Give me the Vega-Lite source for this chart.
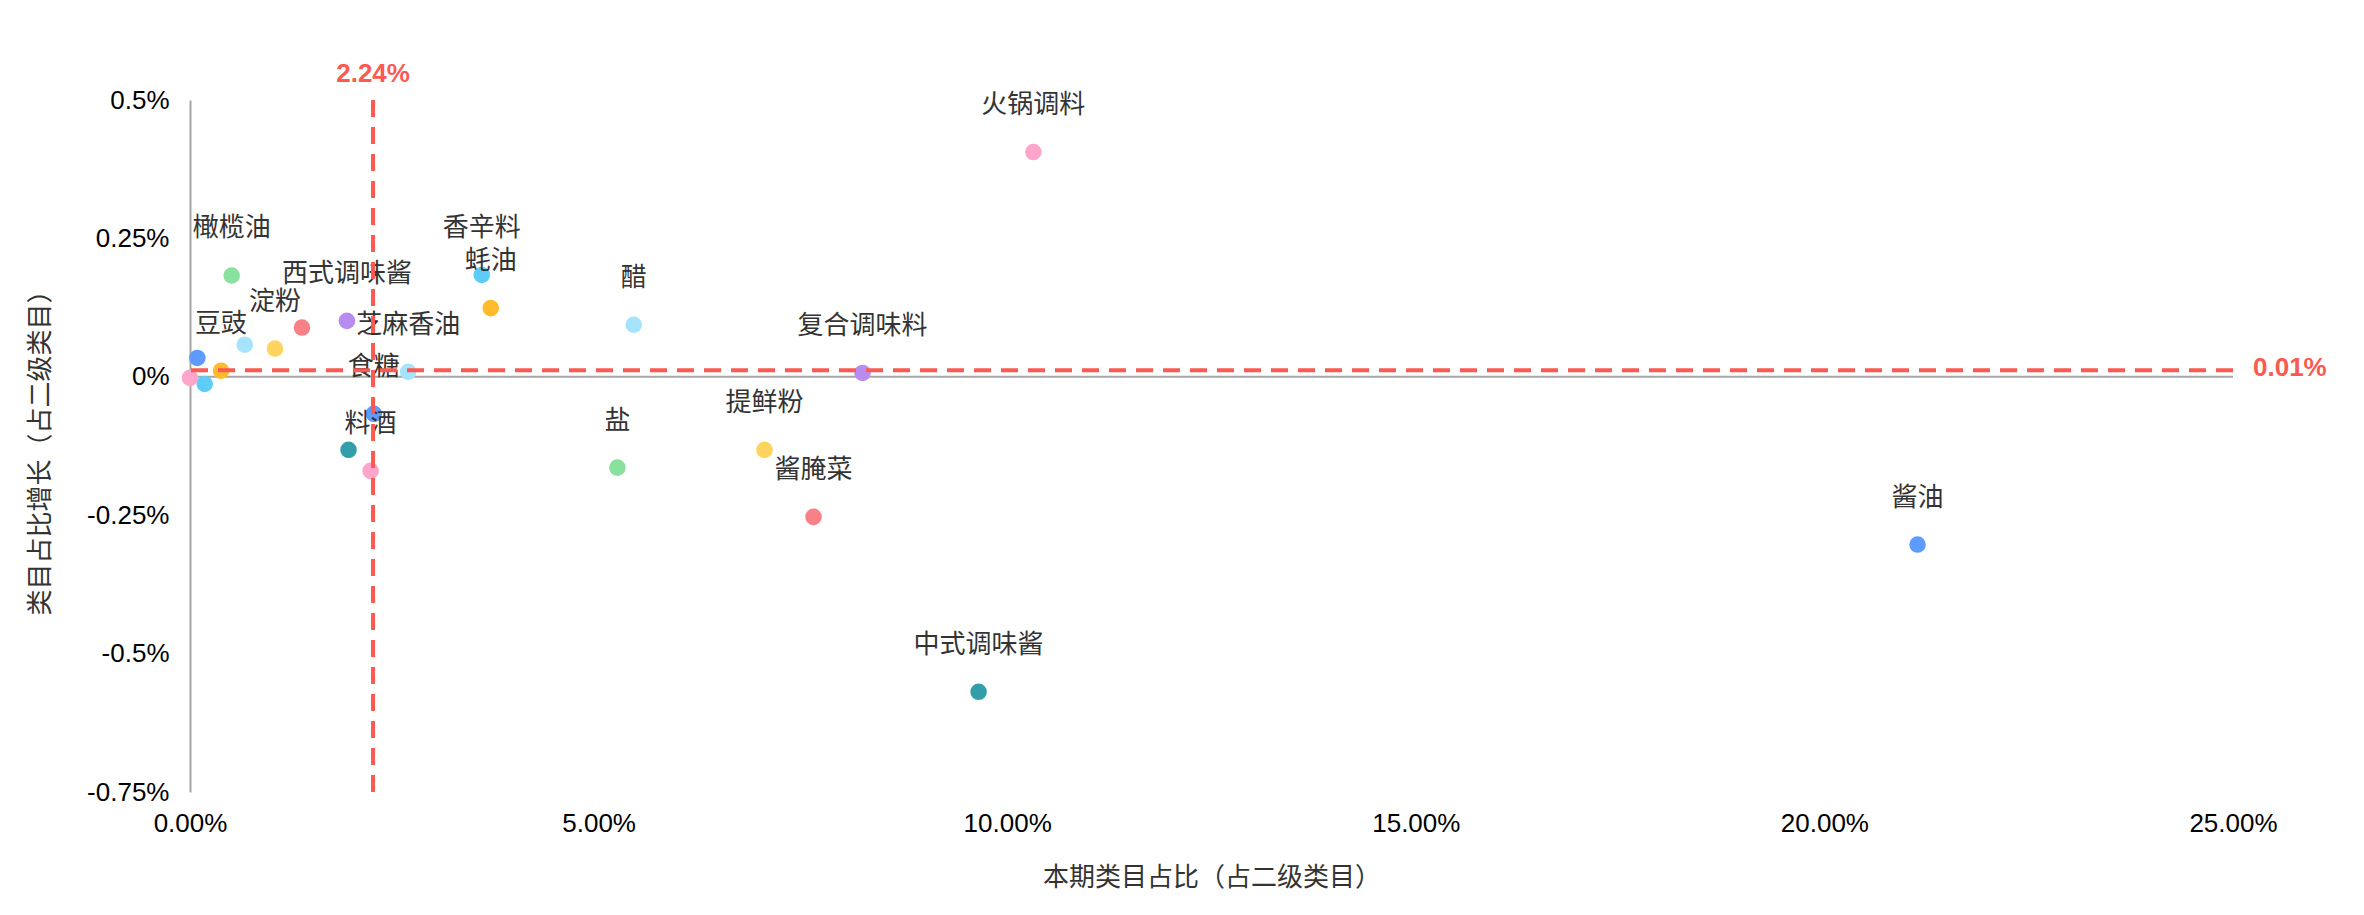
{
  "$schema": "https://vega.github.io/schema/vega-lite/v6.json",
  "width": 2043,
  "height": 692,
  "autosize": {"type": "none"},
  "padding": {"left": 190, "top": 100, "right": 131, "bottom": 123},
  "background": "white",
  "config": {"view": {"stroke": null}},
  "datasets": {
    "points": [
      {"id": 1, "name": "火锅调料", "share": 10.32, "growth": 0.406},
      {"id": 2, "name": "酱油", "share": 21.14, "growth": -0.303},
      {"id": 3, "name": "中式调味酱", "share": 9.65, "growth": -0.569},
      {"id": 4, "name": "盐", "share": 5.23, "growth": -0.164},
      {"id": 5, "name": "醋", "share": 5.43, "growth": 0.094},
      {"id": 6, "name": "复合调味料", "share": 8.23, "growth": 0.007},
      {"id": 7, "name": "提鲜粉", "share": 7.03, "growth": -0.132},
      {"id": 8, "name": "酱腌菜", "share": 7.63, "growth": -0.253},
      {"id": 9, "name": "橄榄油", "share": 0.51, "growth": 0.183},
      {"id": 10, "name": "", "share": 1.37, "growth": 0.089},
      {"id": 11, "name": "西式调味酱", "share": 1.92, "growth": 0.101},
      {"id": 12, "name": "", "share": 0.67, "growth": 0.058},
      {"id": 13, "name": "淀粉", "share": 1.04, "growth": 0.051},
      {"id": 14, "name": "", "share": 0.09, "growth": 0.034},
      {"id": 15, "name": "豆豉", "share": 0.38, "growth": 0.011},
      {"id": 16, "name": "", "share": 0.0, "growth": -0.002},
      {"id": 17, "name": "", "share": 0.18, "growth": -0.013},
      {"id": 18, "name": "芝麻香油", "share": 2.67, "growth": 0.009},
      {"id": 19, "name": "食糖", "share": 2.25, "growth": -0.067},
      {"id": 20, "name": "", "share": 1.94, "growth": -0.132},
      {"id": 21, "name": "料酒", "share": 2.21, "growth": -0.170},
      {"id": 22, "name": "香辛料", "share": 3.57, "growth": 0.184},
      {"id": 23, "name": "蚝油", "share": 3.68, "growth": 0.124}
    ],
    "refs": [{"share_ref": 2.24, "growth_ref": 0.012}]
  },
  "layer": [
    {
      "data": {"name": "refs"},
      "mark": {"type": "rule", "color": "#A6A6A6", "strokeWidth": 2},
      "encoding": {"y": {"datum": 0, "type": "quantitative"}}
    },
    {
      "data": {"name": "points"},
      "mark": {"type": "circle", "size": 275, "opacity": 1, "clip": false},
      "encoding": {
        "x": {
          "field": "share",
          "type": "quantitative",
          "scale": {"domain": [0, 25], "nice": false, "zero": false},
          "axis": {
            "title": "本期类目占比（占二级类目）",
            "values": [0, 5, 10, 15, 20, 25],
            "labelExpr": "format(datum.value, '.2f') + '%'",
            "domain": false,
            "ticks": false,
            "grid": false,
            "labelFont": "Liberation Sans",
            "labelFontSize": 26,
            "labelColor": "#000000",
            "labelPadding": 18,
            "labelFlush": false,
            "titleFont": "Noto Sans CJK SC",
            "titleFontSize": 26,
            "titleFontWeight": "normal",
            "titleColor": "#333333",
            "titlePadding": 28
          }
        },
        "y": {
          "field": "growth",
          "type": "quantitative",
          "scale": {"domain": [-0.75, 0.5], "nice": false, "zero": false},
          "axis": {
            "title": "类目占比增长（占二级类目）",
            "values": [-0.75, -0.5, -0.25, 0, 0.25, 0.5],
            "labelExpr": "datum.value + '%'",
            "domain": true,
            "domainColor": "#A6A6A6",
            "domainWidth": 2,
            "ticks": false,
            "grid": false,
            "labelFont": "Liberation Sans",
            "labelFontSize": 26,
            "labelColor": "#000000",
            "labelPadding": 21,
            "labelFlush": false,
            "titleFont": "Noto Sans CJK SC",
            "titleFontSize": 26,
            "titleFontWeight": "normal",
            "titleColor": "#333333",
            "titlePadding": 33
          }
        },
        "color": {
          "field": "id",
          "type": "nominal",
          "legend": null,
          "scale": {
            "domain": [1, 2, 3, 4, 5, 6, 7, 8, 9, 10, 11, 12, 13, 14, 15, 16, 17, 18, 19, 20, 21, 22, 23],
            "range": ["#FFA5CB", "#5E9BFF", "#339EAA", "#88E29E", "#A6E3FD", "#B68CF0", "#FFD45E", "#F88089", "#88E29E", "#F88089", "#B68CF0", "#A6E3FD", "#FFD45E", "#5E9BFF", "#FFBB2C", "#FFA5CB", "#5DCDF8", "#A6E3FD", "#5E9BFF", "#339EAA", "#FFA5CB", "#5DCDF8", "#FFBB2C"]
          }
        }
      }
    },
    {
      "data": {"name": "points"},
      "transform": [{"filter": "datum.name != ''"}],
      "mark": {"type": "text", "font": "Noto Sans CJK SC", "fontSize": 26, "color": "#333333", "align": "center", "baseline": "middle", "dy": -47, "clip": false},
      "encoding": {
        "x": {"field": "share", "type": "quantitative"},
        "y": {"field": "growth", "type": "quantitative"},
        "text": {"field": "name"}
      }
    },
    {
      "data": {"name": "refs"},
      "mark": {"type": "rule", "color": "#FA5A50", "strokeWidth": 4, "strokeDash": [17, 10]},
      "encoding": {"x": {"field": "share_ref", "type": "quantitative"}}
    },
    {
      "data": {"name": "refs"},
      "mark": {"type": "rule", "color": "#FA5A50", "strokeWidth": 4, "strokeDash": [17, 10]},
      "encoding": {"y": {"field": "growth_ref", "type": "quantitative"}}
    },
    {
      "data": {"name": "refs"},
      "transform": [{"calculate": "format(datum.share_ref, '.2f') + '%'", "as": "share_label"}],
      "mark": {"type": "text", "font": "Liberation Sans", "fontSize": 26, "fontWeight": "bold", "color": "#FA5A50", "align": "center", "baseline": "middle", "dy": -26, "clip": false},
      "encoding": {
        "x": {"field": "share_ref", "type": "quantitative"},
        "y": {"datum": 0.5, "type": "quantitative"},
        "text": {"field": "share_label"}
      }
    },
    {
      "data": {"name": "refs"},
      "transform": [{"calculate": "format(datum.growth_ref, '.2f') + '%'", "as": "growth_label"}],
      "mark": {"type": "text", "font": "Liberation Sans", "fontSize": 26, "fontWeight": "bold", "color": "#FA5A50", "align": "left", "baseline": "middle", "dx": 20, "dy": -2, "clip": false},
      "encoding": {
        "x": {"datum": 25, "type": "quantitative"},
        "y": {"field": "growth_ref", "type": "quantitative"},
        "text": {"field": "growth_label"}
      }
    }
  ]
}
